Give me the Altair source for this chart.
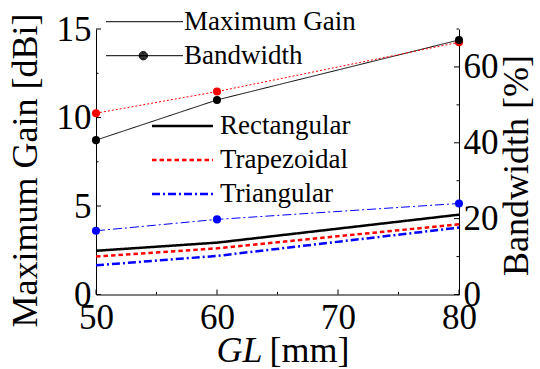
import altair as alt
import pandas as pd

# ---------------- data ----------------
GL = [50, 60, 80]
series = ["Rectangular", "Trapezoidal", "Triangular"]
series_colors = ["black", "red", "blue"]

gain_rect = [2.47, 2.93, 4.51]
gain_trap = [2.14, 2.61, 3.97]
gain_tri = [1.65, 2.18, 3.78]

bw_rect = [40.7, 51.3, 67.1]
bw_trap = [47.8, 53.5, 66.5]
bw_tri = [16.8, 19.8, 24.0]

metrics = ["Maximum Gain", "Bandwidth"]

x_major = [50, 60, 70, 80]
x_minor = [55, 65, 75]
gain_major = [0, 5, 10, 15]
gain_minor = [2.5, 7.5, 12.5]
bw_major = [0, 20, 40, 60]
bw_minor = [10, 30, 50, 70]

# ---------------- tables ----------------
gain_df = pd.DataFrame({
    "GL": GL * 3,
    "series": [s for s in series for _ in GL],
    "gain": gain_rect + gain_trap + gain_tri,
})
bw_df = pd.DataFrame({
    "GL": GL * 3,
    "series": [s for s in series for _ in GL],
    "bw": bw_rect + bw_trap + bw_tri,
})
# points drawn with the rectangular series on top
bw_pts_df = pd.DataFrame({
    "GL": GL * 3,
    "series": [s for s in series[::-1] for _ in GL],
    "bw": bw_tri + bw_trap + bw_rect,
})
metric_df = pd.DataFrame({"metric": metrics})

FONT = "Times New Roman, Liberation Serif, DejaVu Serif, serif"
W, H = 363, 265.5
TICK_FS = 35
TITLE_FS = 36
LEG_FS = 27

xscale = alt.Scale(domain=[50, 80], nice=False, zero=False)
gscale = alt.Scale(domain=[0, 15], nice=False, zero=False)
bscale = alt.Scale(domain=[0, 70], nice=False, zero=False)

# legend symbol paths (unit = 7 px)
path_gain_leg = "M-1,0H7.7"
path_line = "M-1,0H10"
dot = "".join(
    f"M{4.33 + r},0A{r},{r},0,1,1,{4.33 - r},0A{r},{r},0,1,1,{4.33 + r},0"
    for r in (0.6, 0.5, 0.4, 0.3, 0.2, 0.1, 0.03)
)
path_line_dot = path_line + dot

series_legend = alt.Legend(
    orient="none", legendX=49.5, legendY=83.5, title=None, padding=0,
    labelFont=FONT, labelFontSize=LEG_FS, labelColor="black", labelLimit=500,
    symbolType=path_gain_leg, symbolSize=196, symbolStrokeWidth=2.5,
    labelOffset=47.5, rowPadding=6,
)

x_axis_main = alt.Axis(
    orient="bottom", values=x_major, ticks=False, tickSize=0, grid=False,
    labelFont=FONT, labelFontSize=TICK_FS, labelColor="black", labelPadding=6,
    labelFlush=False, labelOverlap=False,
    domainColor="black", domainWidth=1,
    title="GL", titleFont=FONT, titleFontSize=TITLE_FS, titleFontStyle="italic",
    titleFontWeight="normal", titleColor="black", titleAlign="right",
    titleBaseline="alphabetic", titleX=166, titleY=67,
)
x_axis_unit = alt.Axis(
    orient="bottom", labels=False, ticks=False, tickSize=0, domain=False, grid=False,
    title="[mm]", titleFont=FONT, titleFontSize=TITLE_FS, titleFontWeight="normal",
    titleColor="black", titleAlign="left", titleBaseline="alphabetic",
    titleX=173, titleY=67,
)
y_axis_gain = alt.Axis(
    orient="left", values=gain_major, ticks=False, tickSize=0, grid=False,
    labelFont=FONT, labelFontSize=TICK_FS, labelColor="black", labelPadding=5,
    labelFlush=False, labelOverlap=False,
    domainColor="black", domainWidth=1,
    title="Maximum Gain [dBi]", titleFont=FONT, titleFontSize=TITLE_FS,
    titleFontWeight="normal", titleColor="black", titleAngle=270,
    titleAlign="center", titleBaseline="alphabetic", titleX=-59.5, titleY=141,
)
y_axis_bw = alt.Axis(
    orient="right", values=bw_major, ticks=False, tickSize=0, grid=False,
    labelFont=FONT, labelFontSize=TICK_FS, labelColor="black", labelPadding=4,
    labelFlush=False, labelOverlap=False,
    domainColor="black", domainWidth=1,
    title="Bandwidth [%]", titleFont=FONT, titleFontSize=TITLE_FS,
    titleFontWeight="normal", titleColor="black", titleAngle=270,
    titleAlign="center", titleBaseline="alphabetic", titleX=68, titleY=136,
)

gx = alt.X("GL:Q", scale=xscale, axis=x_axis_main)
bx = alt.X("GL:Q", scale=xscale, axis=x_axis_unit)
gy = alt.Y("gain:Q", scale=gscale, axis=y_axis_gain)
by = alt.Y("bw:Q", scale=bscale, axis=y_axis_bw)

# ---------------- gain group ----------------
gain_lines = alt.Chart(gain_df).mark_line(strokeWidth=2.5).encode(
    x=gx, y=gy,
    color=alt.Color("series:N", scale=alt.Scale(domain=series, range=series_colors),
                    legend=series_legend),
    strokeDash=alt.StrokeDash("series:N",
                              scale=alt.Scale(domain=series, range=[[1, 0], [4.5, 3], [8, 3, 2, 3]]),
                              legend=series_legend),
)

metric_legend = alt.Chart(metric_df).mark_point(
    filled=False, opacity=0, color="black", strokeWidth=1
).encode(
    shape=alt.Shape("metric:N",
                    scale=alt.Scale(domain=metrics, range=[path_line, path_line_dot]),
                    legend=alt.Legend(
                        orient="none", legendX=3.5, legendY=-20.8, title=None, padding=0,
                        labelFont=FONT, labelFontSize=LEG_FS, labelColor="black", labelLimit=500,
                        symbolSize=196, symbolOpacity=1, symbolStrokeWidth=1,
                        labelOffset=57.5, rowPadding=6,
                    )),
)

x_ticks_major = alt.Chart(pd.DataFrame({"GL": x_major})).mark_rule(color="black", strokeWidth=1).encode(
    x=gx, y=alt.value(H), y2=alt.value(H - 5))
x_ticks_minor = alt.Chart(pd.DataFrame({"GL": x_minor})).mark_rule(color="black", strokeWidth=1).encode(
    x=gx, y=alt.value(H), y2=alt.value(H - 2.5))
g_ticks_major = alt.Chart(pd.DataFrame({"gain": gain_major})).mark_rule(color="black", strokeWidth=1).encode(
    y=gy, x=alt.value(0), x2=alt.value(5))
g_ticks_minor = alt.Chart(pd.DataFrame({"gain": gain_minor})).mark_rule(color="black", strokeWidth=1).encode(
    y=gy, x=alt.value(0), x2=alt.value(2.5))

gain_group = alt.layer(gain_lines, metric_legend, x_ticks_major, x_ticks_minor,
                       g_ticks_major, g_ticks_minor)

# ---------------- bandwidth group ----------------
bw_lines = alt.Chart(bw_df).mark_line(strokeWidth=1).encode(
    x=bx, y=by,
    color=alt.Color("series:N", scale=alt.Scale(domain=series, range=series_colors), legend=None),
    strokeDash=alt.StrokeDash("series:N",
                              scale=alt.Scale(domain=series, range=[[1, 0], [2, 2], [9, 3, 2, 3]]),
                              legend=None),
)
bw_points = alt.Chart(bw_pts_df).mark_circle(size=65, opacity=1).encode(
    x=bx, y=by,
    color=alt.Color("series:N", scale=alt.Scale(domain=series, range=series_colors), legend=None),
)
b_ticks_major = alt.Chart(pd.DataFrame({"bw": bw_major})).mark_rule(color="black", strokeWidth=1).encode(
    y=by, x=alt.value(W), x2=alt.value(W - 5))
b_ticks_minor = alt.Chart(pd.DataFrame({"bw": bw_minor})).mark_rule(color="black", strokeWidth=1).encode(
    y=by, x=alt.value(W), x2=alt.value(W - 2.5))

bw_group = alt.layer(bw_lines, bw_points, b_ticks_major, b_ticks_minor)

chart = (
    alt.layer(gain_group, bw_group)
    .resolve_scale(y="independent", color="independent", strokeDash="independent")
    .resolve_axis(x="independent")
    .properties(
        width=W, height=H,
        padding={"left": 96, "top": 29, "right": 81, "bottom": 74.5},
        autosize=alt.AutoSizeParams(type="none"),
        background="white",
    )
    .configure_view(stroke=None)
)

chart.save("out.html", embed_options={"renderer": "svg", "actions": False})
